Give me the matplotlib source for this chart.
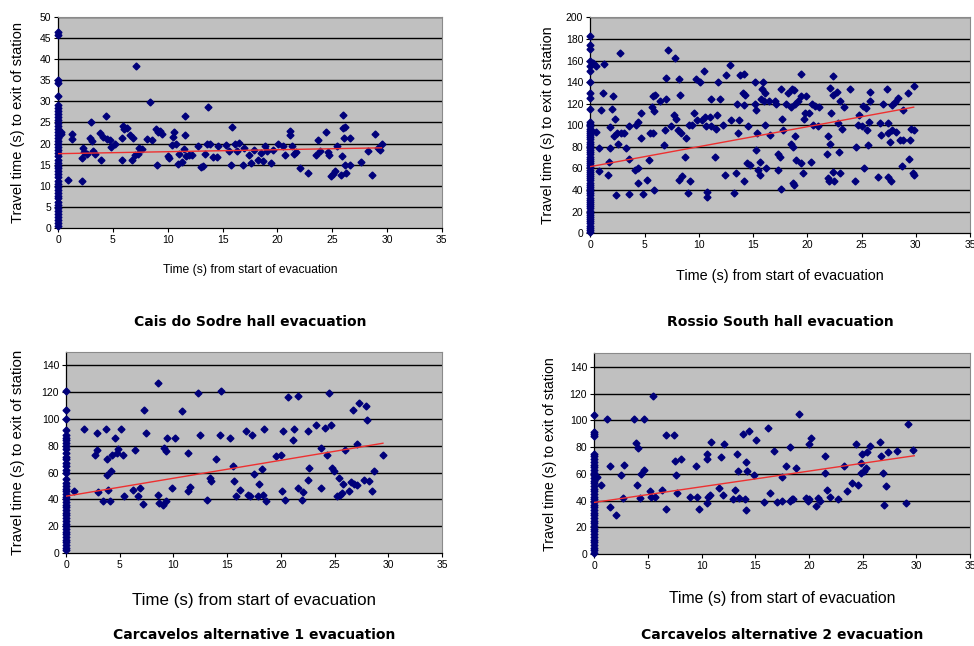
import numpy as np
import matplotlib
matplotlib.use('Agg')
import matplotlib.pyplot as plt

plt.rcParams['font.family'] = ['Liberation Sans', 'DejaVu Sans']

# ---- Cais do Sodre hall evacuation ----
cais_zero_y = [0.5, 1.2, 2.0, 2.6, 3.3, 4.0, 4.8, 5.5, 6.2, 7.0, 7.7, 8.4, 9.1, 9.8,
               10.5, 11.2, 12.0, 12.7, 13.4, 14.1, 14.8, 15.5, 16.2, 17.0, 17.7, 18.4,
               19.1, 19.8, 20.5, 21.2, 22.0, 22.7, 23.4, 24.1, 24.8, 25.5, 26.2, 27.0,
               27.7, 28.4, 29.1, 31.2, 34.4, 35.0, 45.6, 46.3]
cais_x = [0.3, 0.25, 0.9, 1.3, 1.3, 2.2, 2.2, 2.3, 2.4, 2.6, 2.9, 3.0, 3.1, 3.2, 3.4,
          3.8, 3.9, 4.1, 4.4, 4.5, 4.7, 4.8, 5.2, 5.8, 5.8, 5.9, 6.0, 6.3, 6.6, 6.7,
          6.8, 7.0, 7.1, 7.3, 7.4, 7.7, 8.1, 8.4, 8.6, 8.9, 9.0, 9.1, 9.3, 9.5, 10.0,
          10.1, 10.4, 10.5, 10.6, 10.8, 10.9, 11.0, 11.3, 11.5, 11.6, 11.6, 11.7, 11.9,
          12.2, 12.8, 13.0, 13.2, 13.4, 13.6, 13.7, 13.9, 14.1, 14.5, 14.6, 15.3, 15.6,
          15.8, 15.9, 16.1, 16.3, 16.5, 16.9, 17.0, 17.4, 17.6, 17.9, 18.2, 18.5, 18.7,
          18.9, 19.1, 19.4, 19.6, 20.1, 20.5, 20.7, 21.2, 21.2, 21.3, 21.5, 21.7, 22.1,
          22.8, 23.5, 23.7, 23.9, 24.4, 24.6, 24.7, 24.9, 25.1, 25.3, 25.4, 25.8, 25.9,
          26.0, 26.0, 26.1, 26.2, 26.2, 26.3, 26.6, 26.6, 27.6, 28.3, 28.6, 28.9, 29.2,
          29.4, 29.5]
cais_y = [22.8, 22.3, 11.3, 22.3, 21.0, 11.2, 16.6, 19.0, 18.0, 17.5, 21.3, 25.0, 20.5,
          18.3, 17.5, 22.4, 16.0, 21.6, 26.6, 21.0, 20.8, 19.2, 20.0, 16.0, 21.3, 24.2,
          23.5, 23.6, 22.0, 16.0, 21.3, 17.3, 38.3, 17.5, 19.0, 18.6, 21.0, 29.8, 20.8,
          23.5, 15.0, 22.8, 23.0, 22.3, 17.0, 16.5, 19.7, 21.5, 22.7, 20.0, 15.2, 17.5,
          15.6, 18.8, 26.5, 22.0, 17.1, 17.3, 17.4, 19.5, 14.5, 14.8, 17.5, 19.8, 28.7,
          20.0, 16.7, 16.7, 19.3, 19.6, 18.2, 15.0, 24.0, 20.0, 18.2, 20.2, 15.0, 19.0,
          17.3, 15.5, 18.5, 16.0, 17.7, 15.8, 19.5, 18.3, 15.3, 18.5, 20.0, 19.4, 17.2,
          23.0, 22.0, 19.4, 17.5, 18.0, 14.3, 13.1, 17.3, 20.8, 18.3, 22.7, 18.0, 17.3,
          12.2, 12.7, 13.5, 19.5, 12.5, 17.0, 26.8, 23.6, 21.3, 24.0, 15.0, 13.0, 21.3,
          15.0, 15.7, 18.3, 12.6, 22.3, 19.0, 18.5, 19.8]
cais_trend = (17.6, 0.047, 29.5)   # intercept, slope, last x

# ---- Rossio South hall evacuation ----
rossio_zero_y = [1, 3, 5, 7, 9, 11, 13, 15, 17, 19, 21, 23, 25, 27, 29, 31, 33, 35, 37,
                 39, 41, 43, 45, 47, 49, 51, 53, 55, 57, 59, 61, 63, 65, 67, 69, 71, 73,
                 75, 77, 79, 81, 83, 85, 87, 89, 91, 93, 95, 97, 99, 101, 103, 115, 125,
                 130, 140, 150, 155, 160, 171, 174, 183]
rossio_x = [0.5, 0.3, 0.2, 1.3, 2.7, 1.2, 2.1, 2.0, 1.0, 2.3, 0.8, 1.8, 1.7, 1.6, 0.8,
            0.5, 1.8, 2.2, 2.5, 2.8, 3.1, 2.6, 3.3, 2.4, 3.6, 3.6, 3.6, 4.1, 4.4, 4.2,
            4.4, 4.7, 4.7, 4.4, 4.9, 5.2, 5.4, 5.5, 5.8, 5.7, 5.8, 6.0, 5.9, 5.9, 6.4,
            6.8, 6.9, 7.0, 7.0, 7.2, 7.4, 7.8, 7.7, 7.9, 8.1, 8.2, 8.3, 8.2, 8.4, 8.5,
            8.7, 8.8, 9.0, 9.1, 9.2, 9.4, 9.6, 9.7, 9.8, 10.1, 10.3, 10.5, 10.6, 10.7,
            10.8, 10.8, 11.0, 11.1, 11.1, 11.5, 11.6, 11.7, 11.8, 12.0, 12.2, 12.4, 12.5,
            12.9, 13.0, 13.4, 13.2, 13.5, 13.6, 13.7, 13.8, 14.1, 14.2, 14.2, 14.3, 14.2,
            14.4, 14.5, 14.7, 15.2, 15.2, 15.3, 15.3, 15.4, 15.5, 15.6, 15.6, 15.7, 15.8,
            15.9, 16.0, 16.1, 16.1, 16.2, 16.5, 16.6, 17.0, 17.1, 17.3, 17.3, 17.5, 17.6,
            17.7, 17.6, 17.8, 18.0, 18.2, 18.5, 18.6, 18.7, 18.5, 18.7, 18.8, 18.8, 18.9,
            18.9, 19.0, 19.1, 19.4, 19.4, 19.4, 19.6, 19.7, 19.8, 19.9, 20.2, 20.3, 20.4,
            20.7, 20.5, 21.0, 21.1, 21.8, 21.9, 21.9, 22.0, 22.1, 22.1, 22.2, 22.4, 22.4,
            22.4, 22.5, 22.7, 22.8, 22.9, 23.0, 23.0, 23.2, 23.4, 23.9, 24.4, 24.5, 24.7,
            24.8, 25.0, 25.1, 25.2, 25.4, 25.5, 25.6, 25.7, 25.8, 25.8, 26.5, 26.7, 26.8,
            27.0, 27.3, 27.4, 27.4, 27.4, 27.6, 27.7, 27.8, 27.8, 28.1, 28.2, 28.4, 28.5,
            28.7, 28.8, 28.8, 29.3, 29.4, 29.5, 29.6, 29.7, 29.8, 29.8, 29.8]
rossio_y = [155, 158, 95, 157, 167, 130, 127, 115, 114, 106, 79, 79, 66, 54, 58, 94, 98,
            90, 93, 93, 93, 83, 79, 35, 36, 69, 99, 59, 60, 100, 103, 111, 88, 47, 36, 49,
            68, 93, 93, 117, 127, 128, 113, 40, 123, 82, 96, 124, 144, 170, 99, 162, 110,
            106, 96, 143, 128, 49, 93, 53, 71, 88, 37, 100, 48, 100, 111, 143, 105, 140,
            105, 150, 108, 99, 38, 34, 108, 124, 99, 71, 97, 110, 140, 124, 100, 54, 147,
            156, 105, 56, 37, 120, 93, 105, 147, 130, 148, 119, 128, 48, 65, 99, 63, 140,
            120, 77, 114, 93, 59, 66, 54, 124, 134, 140, 123, 100, 130, 60, 123, 91, 123,
            120, 59, 73, 71, 134, 106, 41, 96, 120, 130, 117, 134, 80, 83, 47, 45, 133,
            120, 90, 68, 123, 127, 65, 148, 56, 106, 111, 127, 111, 66, 120, 118, 100, 99,
            117, 73, 90, 51, 48, 83, 135, 111, 146, 128, 57, 48, 131, 102, 75, 56, 123, 97,
            117, 134, 48, 80, 100, 110, 99, 118, 60, 116, 96, 82, 103, 123, 131, 52, 102,
            91, 120, 134, 52, 93, 102, 85, 48, 96, 119, 122, 94, 125, 86, 62, 86, 114, 130,
            69, 86, 97, 56, 136, 96, 54]
rossio_trend = (61.7, 1.85, 29.8)

# ---- Carcavelos alternative 1 evacuation ----
alt1_zero_y = [2, 4, 6, 8, 10, 12, 14, 16, 18, 20, 22, 24, 26, 28, 30, 32, 34, 36, 38,
               40, 42, 44, 46, 48, 50, 52, 55, 60, 62, 65, 67, 70, 72, 75, 78, 80, 82,
               84, 86, 88, 92, 100, 107, 121]
alt1_x = [0.7, 1.7, 2.7, 2.9, 2.9, 3.0, 3.4, 3.7, 3.8, 3.8, 3.9, 4.1, 4.2, 4.3, 4.6,
          4.7, 4.8, 5.1, 5.3, 5.4, 6.4, 6.2, 6.7, 6.9, 7.2, 7.3, 7.4, 8.6, 8.6, 8.7,
          9.0, 9.1, 9.3, 9.4, 9.3, 9.9, 10.1, 10.8, 11.4, 11.5, 11.4, 12.3, 12.5, 13.1,
          13.4, 13.5, 14.0, 14.3, 14.4, 15.3, 15.5, 15.6, 15.8, 16.2, 16.8, 16.9, 17.1,
          17.3, 17.5, 17.9, 18.0, 18.2, 18.3, 18.4, 18.6, 19.5, 20.0, 20.1, 20.2, 20.4,
          20.7, 21.1, 21.2, 21.6, 21.6, 22.0, 22.1, 22.5, 22.6, 22.5, 23.3, 23.7, 23.7,
          24.1, 24.3, 24.5, 24.7, 24.8, 24.9, 25.2, 25.4, 25.5, 25.7, 25.8, 26.0, 26.3,
          26.5, 26.7, 26.8, 27.1, 27.1, 27.3, 27.7, 27.9, 28.0, 28.2, 28.5, 28.7, 29.5]
alt1_y = [46.6, 92.7, 73.5, 76.7, 89.7, 45.6, 38.6, 92.2, 58.5, 69.8, 46.8, 39.1, 61.0,
          73.5, 85.5, 74.7, 77.7, 92.7, 73.5, 42.4, 77.2, 47.3, 42.8, 48.6, 36.9, 106.4,
          89.7, 127.0, 43.6, 37.4, 36.1, 78.5, 76.5, 86.0, 38.6, 48.6, 85.5, 105.9, 46.1,
          49.0, 74.7, 119.6, 88.4, 39.9, 56.0, 53.6, 69.8, 88.4, 120.8, 85.9, 64.8, 53.6,
          42.4, 46.8, 90.9, 43.6, 42.4, 88.4, 59.3, 42.4, 51.8, 62.8, 43.6, 92.7, 38.6,
          72.2, 73.5, 46.1, 90.9, 39.9, 116.3, 84.7, 92.2, 117.0, 48.6, 39.9, 45.3, 90.9,
          63.5, 54.8, 95.2, 78.5, 48.6, 93.4, 73.5, 119.6, 95.4, 63.5, 61.0, 42.4, 55.8,
          43.6, 44.8, 51.8, 76.7, 46.1, 53.1, 106.4, 51.8, 81.0, 50.8, 112.0, 54.8, 110.0,
          99.0, 53.6, 46.1, 61.0, 73.5]
alt1_trend = (42.4, 1.34, 29.5)

# ---- Carcavelos alternative 2 evacuation ----
alt2_zero_y = [1, 3, 5, 7, 9, 11, 13, 15, 17, 19, 21, 23, 25, 27, 29, 31, 33, 35, 37,
               39, 41, 43, 45, 47, 49, 51, 53, 55, 57, 59, 61, 63, 65, 67, 69, 71, 73,
               75, 88, 90, 91, 104]
alt2_x = [0.3, 0.6, 1.2, 1.5, 1.5, 2.0, 2.5, 2.7, 2.8, 3.7, 3.9, 4.0, 4.1, 4.3, 4.4,
          4.6, 4.6, 5.2, 5.3, 5.5, 5.7, 6.3, 6.7, 6.7, 7.4, 7.5, 7.6, 7.7, 8.1, 8.9, 9.5,
          9.6, 9.8, 10.5, 10.5, 10.5, 10.6, 10.8, 10.9, 11.6, 11.8, 12.0, 12.1, 12.9,
          13.1, 13.3, 13.4, 13.5, 13.9, 14.0, 14.1, 14.2, 14.1, 14.4, 14.9, 15.1, 15.8,
          16.2, 16.4, 16.7, 17.0, 17.5, 17.5, 17.9, 18.2, 18.2, 18.4, 18.5, 18.8, 19.1,
          19.7, 19.9, 20.0, 20.2, 20.0, 20.7, 20.8, 21.0, 21.5, 21.5, 21.7, 22.0, 22.7,
          23.3, 23.5, 24.0, 24.4, 24.6, 24.8, 24.8, 24.9, 25.1, 25.3, 25.4, 25.7, 26.6,
          26.7, 26.9, 27.0, 27.2, 27.4, 28.2, 29.0, 29.2, 29.7]
alt2_y = [58, 51.5, 101, 66, 35, 29, 59.5, 42, 66.5, 101, 83, 51.5, 79, 42, 60, 63, 101,
          47, 43, 118, 43, 48, 34, 89, 89, 69.5, 59.5, 46, 71, 43, 66, 43, 34, 75, 71,
          38, 43, 44, 84, 49.5, 72.5, 44, 82, 41, 48, 75, 62, 42, 90, 41, 69, 62, 33, 92,
          59.5, 85, 39, 94, 46, 77, 39, 58, 39.5, 66, 80, 39.5, 41, 41, 64.5, 105, 42,
          39.5, 82, 87, 41, 36, 42, 39.5, 73, 61, 48, 43, 41, 66, 47, 53, 82, 51.5, 68,
          61, 74.5, 62, 64.5, 76, 81, 84, 73, 61, 37, 51, 76, 77, 38, 97, 78]
alt2_trend = (38.7, 1.17, 29.8)

titles = ['Cais do Sodre hall evacuation', 'Rossio South hall evacuation',
          'Carcavelos alternative 1 evacuation', 'Carcavelos alternative 2 evacuation']
y_label = 'Travel time (s) to exit of station'
x_label = 'Time (s) from start of evacuation'


def drawPanel(fig, rect, zero_y, xs, ys, trend, ymax, ystep, yticks_max, title,
              xlab_size, xlab_y, title_y, ylab_x, ylab_size):
    ax = fig.add_axes(rect)
    ax.set_facecolor('#c0c0c0')
    all_x = [0] * len(zero_y) + xs
    all_y = zero_y + ys
    ax.plot(all_x, all_y, linestyle='none', marker='D', markersize=3.5,
            color='#00007a', zorder=3, clip_on=False)
    b, m, xend = trend
    ax.plot([0, xend], [b, b + m * xend], color='#ee3030', linewidth=1.0, zorder=4)
    ax.set_xlim(0, 35)
    ax.set_ylim(0, ymax)
    ax.set_xticks(range(0, 36, 5))
    yt = list(range(0, yticks_max + 1, ystep))
    ax.set_yticks(yt)
    for v in yt[1:]:
        ax.axhline(v, color='black', linewidth=1.0, zorder=1)
    ax.tick_params(direction='out', length=3, width=0.8, labelsize=7.5, pad=2)
    for side in ['top', 'right']:
        ax.spines[side].set_color('#8a8a8a')
        ax.spines[side].set_linewidth(0.8)
    for side in ['left', 'bottom']:
        ax.spines[side].set_linewidth(0.9)
    cx = rect[0] + rect[2] / 2
    fig.text(cx, xlab_y, x_label, ha='center', va='center', fontsize=xlab_size)
    fig.text(ylab_x, rect[1] + rect[3] / 2, y_label, ha='center', va='center',
             rotation=90, fontsize=ylab_size)
    fig.text(cx, title_y, title, ha='center', va='center', fontsize=10,
             fontweight='bold', family='DejaVu Sans')
    return ax


if __name__ == '__main__':
    fig = plt.figure(figsize=(9.74, 6.46), dpi=100)
    fig.patch.set_facecolor('white')

    drawPanel(fig, [0.0596, 0.647, 0.394, 0.327], cais_zero_y, cais_x, cais_y,
              cais_trend, 50, 5, 50, titles[0], 8.7, 1 - 270 / 646, 1 - 322 / 646,
              18 / 974, 10.5)
    drawPanel(fig, [0.606, 0.639, 0.390, 0.334], rossio_zero_y, rossio_x, rossio_y,
              rossio_trend, 200, 20, 200, titles[1], 10.4, 1 - 276 / 646, 1 - 322 / 646,
              548 / 974, 10.4)
    drawPanel(fig, [0.0678, 0.144, 0.386, 0.311], alt1_zero_y, alt1_x, alt1_y,
              alt1_trend, 150, 20, 140, titles[2], 12.2, 1 - 600 / 646, 1 - 635 / 646,
              18 / 974, 10.8)
    drawPanel(fig, [0.610, 0.142, 0.386, 0.311], alt2_zero_y, alt2_x, alt2_y,
              alt2_trend, 150, 20, 140, titles[3], 11.3, 1 - 598 / 646, 1 - 635 / 646,
              550 / 974, 10.2)

    fig.savefig('out.png', dpi=100)
